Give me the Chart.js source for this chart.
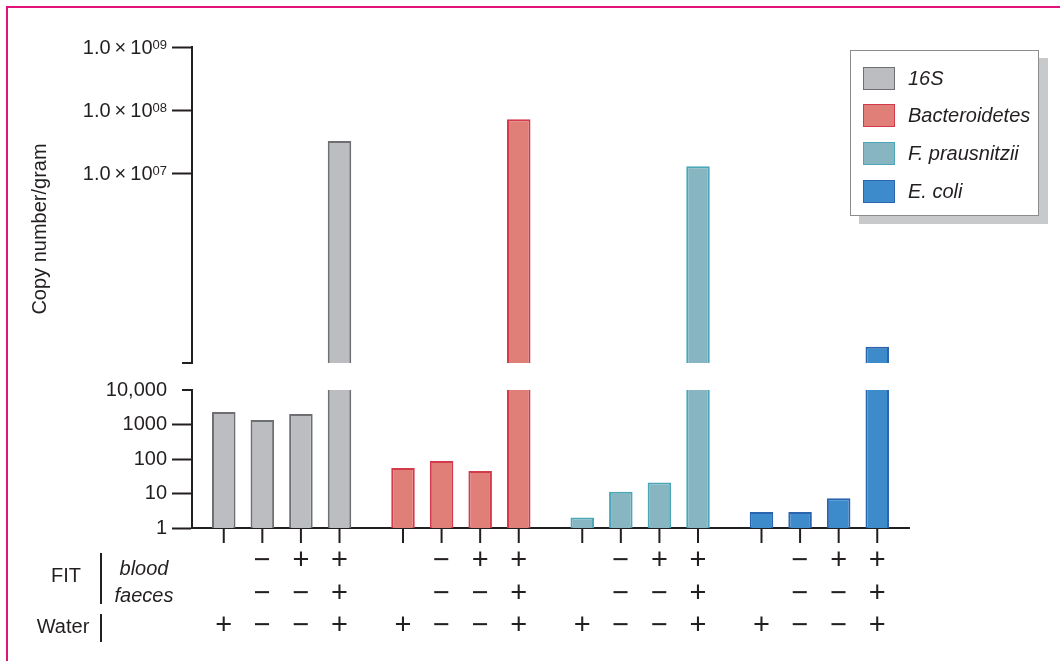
<!DOCTYPE html>
<html>
<head>
<meta charset="utf-8">
<script src="https://cdn.jsdelivr.net/npm/chart.js@4.4.0/dist/chart.umd.min.js"></script>
<style>
html,body{margin:0;padding:0;background:#fff;}
#wrap{position:relative;width:1060px;height:661px;overflow:hidden;font-family:"Liberation Sans",Arial,Helvetica,sans-serif;color:#231f20;}
#wrap canvas{position:absolute;left:0;top:0;}
.frameL{position:absolute;left:6px;top:6px;width:2px;height:700px;background:#e2127b;}
.frameT{position:absolute;left:6px;top:6px;height:2px;width:1100px;background:#e2127b;}
#legend{position:absolute;left:850px;top:50px;width:187px;height:164px;border:1px solid #8c8c8c;background:#fff;box-shadow:9px 8px 0 #c8c9cb;}
#legend .item{position:absolute;left:12px;height:24px;display:flex;align-items:center;white-space:nowrap;}
#legend .sw{width:30px;height:21px;border:1.5px solid #888;box-sizing:content-box;margin-right:13px;}
#legend .lbl{font-style:italic;font-size:20px;color:#231f20;}
</style>
</head>
<body>
<div id="wrap">
  <canvas id="lower" width="1060" height="661"></canvas>
  <canvas id="upper" width="1060" height="661"></canvas>
  <div class="frameL"></div>
  <div class="frameT"></div>
  <div id="legend"></div>
</div>
<script>
// ---- data ----
const seriesNames = ['16S', 'Bacteroidetes', 'F. prausnitzii', 'E. coli'];
const values16S = [2300, 1350, 2000, 3.26e7];
const valuesBacteroidetes = [55, 87, 45, 7.2e7];
const valuesFprausnitzii = [2.0, 11.3, 21, 1.3e7];
const valuesEcoli = [2.9, 2.9, 7.3, 1.8e4];
const bloodSigns = ['', '\u2212', '+', '+'];
const faecesSigns = ['', '\u2212', '\u2212', '+'];
const waterSigns = ['+', '\u2212', '\u2212', '+'];
const upperTicks = [1e7, 1e8, 1e9];
const upperTickBase = ['1.0\u2009\u00d7\u200910', '1.0\u2009\u00d7\u200910', '1.0\u2009\u00d7\u200910'];
const upperTickExp = ['07', '08', '09'];
const lowerTicks = [1, 10, 100, 1000, 10000];
const lowerTickLabels = ['1', '10', '100', '1000', '10,000'];
const fillColors = ['#bcbdc0', '#df7f77', '#87b6c2', '#3d8bcb'];
const borderColors = ['#6e6f72', '#d33a4c', '#4ba6b7', '#2a63ae'];
const yTitle = 'Copy number/gram';

// ---- build ----
const FONT = '"Liberation Sans", Arial, Helvetica, sans-serif';
const INK = '#231f20';
const allSeries = [values16S, valuesBacteroidetes, valuesFprausnitzii, valuesEcoli];
function makeDatasets() {
  return [0, 1, 2, 3].map(c => ({
    label: 'condition ' + (c + 1),
    data: allSeries.map(s => s[c]),
    backgroundColor: fillColors,
    borderColor: borderColors,
    borderWidth: 2,
    clip: 0,
    categoryPercentage: 0.861,
    barPercentage: 0.61
  }));
}

// legend
const leg = document.getElementById('legend');
seriesNames.forEach((n, i) => {
  const it = document.createElement('div');
  it.className = 'item';
  it.style.top = (15 + i * 37.7) + 'px';
  it.innerHTML = '<div class="sw" style="background:' + fillColors[i] + ';border-color:' + borderColors[i] + '"></div><span class="lbl">' + n + '</span>';
  leg.appendChild(it);
});

function line(ctx, x1, y1, x2, y2) {
  ctx.beginPath(); ctx.moveTo(x1, y1); ctx.lineTo(x2, y2); ctx.stroke();
}

const upperPlugin = {
  id: 'upperExtras',
  afterDraw(chart) {
    const ctx = chart.ctx, a = chart.chartArea, ys = chart.scales.y;
    ctx.save();
    ctx.strokeStyle = INK; ctx.lineWidth = 2; ctx.fillStyle = INK;
    line(ctx, a.left - 10, a.bottom, a.left, a.bottom);
    // tick labels with superscript exponent
    const right = a.left - 25;
    upperTicks.forEach((v, i) => {
      const y = ys.getPixelForValue(v);
      ctx.font = '13px ' + FONT;
      const expW = ctx.measureText(upperTickExp[i]).width;
      ctx.textAlign = 'right'; ctx.textBaseline = 'top';
      ctx.fillText(upperTickExp[i], right, y - 8.5);
      ctx.font = '20px ' + FONT;
      ctx.textBaseline = 'middle';
      ctx.fillText(upperTickBase[i], right - expW, y + 1);
    });
    ctx.translate(40, 229);
    ctx.rotate(-Math.PI / 2);
    ctx.font = '20px ' + FONT;
    ctx.textAlign = 'center'; ctx.textBaseline = 'middle';
    ctx.fillText(yTitle, 0, 0);
    ctx.restore();
  }
};

const lowerPlugin = {
  id: 'lowerExtras',
  afterDraw(chart) {
    const ctx = chart.ctx, a = chart.chartArea;
    const ys = chart.scales.y;
    ctx.save();
    ctx.strokeStyle = INK; ctx.lineWidth = 2; ctx.fillStyle = INK;
    const y1e4 = ys.getPixelForValue(1e4);
    line(ctx, a.left - 10, y1e4, a.left, y1e4);
    ctx.font = '29px ' + FONT;
    ctx.textAlign = 'center'; ctx.textBaseline = 'middle';
    chart.data.datasets.forEach((ds, c) => {
      chart.getDatasetMeta(c).data.forEach(el => {
        line(ctx, el.x, a.bottom, el.x, a.bottom + 15);
        ctx.fillText(bloodSigns[c], el.x, 561);
        ctx.fillText(faecesSigns[c], el.x, 594);
        ctx.fillText(waterSigns[c], el.x, 626);
      });
    });
    // row labels
    ctx.font = '20px ' + FONT;
    ctx.fillText('FIT', 66, 576);
    ctx.fillText('Water', 63, 627);
    ctx.font = 'italic 20px ' + FONT;
    ctx.fillText('blood', 144, 569);
    ctx.fillText('faeces', 144, 596);
    line(ctx, 101, 553, 101, 604);
    line(ctx, 101, 614, 101, 642);
    ctx.restore();
  }
};

function yScale(min, max, ticks, labels, tickColorFn) {
  return {
    type: 'logarithmic', position: 'left', min: min, max: max,
    afterFit(s) { s.width = 192; },
    afterBuildTicks(s) { s.ticks = ticks.map(v => ({ value: v })); },
    ticks: {
      autoSkip: false, padding: 5, color: INK,
      font: { size: 20, family: FONT },
      callback: (v, i) => labels ? labels[i] : ''
    },
    grid: { drawOnChartArea: false, tickLength: 20, tickWidth: 2, tickColor: tickColorFn || INK },
    border: { color: INK, width: 2 }
  };
}

new Chart(document.getElementById('upper'), {
  type: 'bar',
  data: { labels: seriesNames, datasets: makeDatasets() },
  options: {
    responsive: false, animation: false,
    layout: { padding: { left: 0, right: 151, top: 47, bottom: 298 } },
    plugins: { legend: { display: false }, tooltip: { enabled: false } },
    scales: {
      x: { type: 'category', display: false, offset: true },
      y: yScale(1e4, 1e9, upperTicks, null)
    }
  },
  plugins: [upperPlugin]
});

new Chart(document.getElementById('lower'), {
  type: 'bar',
  data: { labels: seriesNames, datasets: makeDatasets() },
  options: {
    responsive: false, animation: false,
    layout: { padding: { left: 0, right: 151, top: 390, bottom: 133 } },
    plugins: { legend: { display: false }, tooltip: { enabled: false } },
    scales: {
      x: {
        type: 'category', offset: true,
        afterFit(s) { s.height = 0; },
        ticks: { display: false },
        grid: { display: false },
        border: { display: true, color: INK, width: 2 }
      },
      y: yScale(1, 1e4, lowerTicks, lowerTickLabels,
        ctx => (ctx.tick && ctx.tick.value === 1e4) ? 'rgba(0,0,0,0)' : INK)
    }
  },
  plugins: [lowerPlugin]
});
</script>
</body>
</html>
